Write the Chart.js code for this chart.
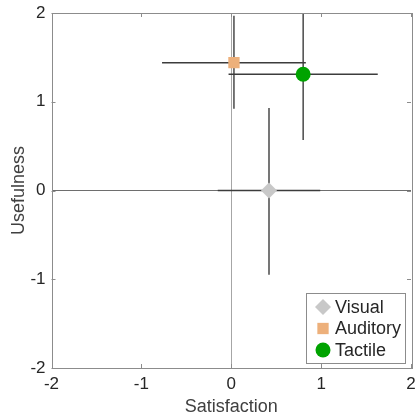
<!DOCTYPE html>
<html>
<head>
<meta charset="utf-8">
<script src="https://cdn.jsdelivr.net/npm/chart.js@4"></script>
<style>
  html, body { margin: 0; padding: 0; background: #fff; }
  #wrap { width: 416px; height: 418px; }
</style>
</head>
<body>
<div id="wrap"><canvas id="chart" width="416" height="418"></canvas></div>
<script>
// data
const groups = ['Visual', 'Auditory', 'Tactile'];
const satisfaction = [0.42, 0.03, 0.80];
const usefulness = [0.00, 1.44, 1.31];
const satLow = [-0.15, -0.77, -0.03];
const satHigh = [0.99, 0.83, 1.63];
const useLow = [-0.95, 0.92, 0.57];
const useHigh = [0.93, 1.97, 2.02];
const tickValues = [-2, -1, 0, 1, 2];

const markerColors = ['#c8c8c8', '#edb07b', '#00a300'];
const markerStyles = ['rectRot', 'rect', 'circle'];
const markerRadius = [8, 8, 7.5];

const fontFamily = '"Liberation Sans", Arial, Helvetica, sans-serif';
const barColor = '#3c3c3c';
const boxColor = '#8c8c8c';

const datasets = [];

// error bars (drawn below the markers)
groups.forEach(function(name, i) {
    datasets.push({
        type: 'line',
        label: name + ' x-err',
        data: [{x: satLow[i], y: usefulness[i]}, {x: satHigh[i], y: usefulness[i]}],
        borderColor: barColor,
        borderWidth: 1.4,
        pointRadius: 0,
        order: 2
    });
    datasets.push({
        type: 'line',
        label: name + ' y-err',
        data: [{x: satisfaction[i], y: useLow[i]}, {x: satisfaction[i], y: useHigh[i]}],
        borderColor: barColor,
        borderWidth: 1.4,
        pointRadius: 0,
        order: 2
    });
});

// markers
groups.forEach(function(name, i) {
    datasets.push({
        type: 'scatter',
        label: name,
        data: [{x: satisfaction[i], y: usefulness[i]}],
        pointStyle: markerStyles[i],
        pointRadius: markerRadius[i],
        backgroundColor: markerColors[i],
        borderColor: markerColors[i],
        borderWidth: 0,
        order: 1
    });
});

// box around the plot with inward ticks, and the legend inside the plot
const boxPlugin = {
    id: 'boxPlugin',
    afterDraw(chart) {
        const ctx = chart.ctx;
        const a = chart.chartArea;
        const xs = chart.scales.x;
        const ys = chart.scales.y;
        ctx.save();
        ctx.strokeStyle = boxColor;
        ctx.lineWidth = 1;
        ctx.strokeRect(Math.round(a.left) + 0.5, Math.round(a.top) + 0.5,
            Math.round(a.right - a.left), Math.round(a.bottom - a.top));
        const tl = 4;
        ctx.beginPath();
        tickValues.forEach(function(v) {
            const px = Math.round(xs.getPixelForValue(v)) + 0.5;
            ctx.moveTo(px, a.bottom); ctx.lineTo(px, a.bottom - tl);
            ctx.moveTo(px, a.top); ctx.lineTo(px, a.top + tl);
            const py = Math.round(ys.getPixelForValue(v)) + 0.5;
            ctx.moveTo(a.left, py); ctx.lineTo(a.left + tl, py);
            ctx.moveTo(a.right, py); ctx.lineTo(a.right - tl, py);
        });
        ctx.stroke();

        // legend
        const w = 99, h = 70;
        const lx = a.right - 6 - w;
        const ly = a.bottom - 5 - h;
        ctx.fillStyle = '#ffffff';
        ctx.fillRect(lx, ly, w, h);
        ctx.strokeStyle = boxColor;
        ctx.strokeRect(Math.round(lx) + 0.5, Math.round(ly) + 0.5, w, h);
        ctx.font = '18px ' + fontFamily;
        ctx.textBaseline = 'middle';
        ctx.textAlign = 'left';
        groups.forEach(function(name, i) {
            const cy = ly + 14 + i * 21.5;
            ctx.fillStyle = markerColors[i];
            ctx.strokeStyle = markerColors[i];
            Chart.helpers.drawPoint(ctx, {
                pointStyle: markerStyles[i],
                radius: markerRadius[i],
                borderWidth: 0,
                rotation: 0
            }, lx + 17, cy);
            ctx.fillStyle = '#262626';
            ctx.fillText(name, lx + 29, cy + 1);
        });
        ctx.restore();
    }
};

function axisOptions(title, isX) {
    return {
        type: 'linear',
        min: -2,
        max: 2,
        afterBuildTicks: function(scale) {
            scale.ticks = tickValues.map(function(v) { return {value: v}; });
        },
        afterFit: function(scale) {
            // fixed axis sizes so the plot box sits where the figure has it
            if (isX) {
                scale.height = 50;
                scale.paddingLeft = 0;
                scale.paddingRight = 0;
            } else {
                scale.width = 51.5;
                scale.paddingTop = 0;
                scale.paddingBottom = 0;
            }
        },
        border: { display: false },
        grid: {
            drawTicks: false,
            lineWidth: 1,
            color: function(c) {
                if (c.tick && c.tick.value === 0) return isX ? '#a6a6a6' : '#6e6e6e';
                return 'rgba(0,0,0,0)';
            }
        },
        ticks: {
            color: '#262626',
            padding: isX ? 6 : 6,
            font: { family: fontFamily, size: 17 }
        },
        title: {
            display: true,
            text: title,
            color: '#404040',
            padding: { top: isX ? 3 : 8, bottom: 0 },
            font: { family: fontFamily, size: 18 }
        }
    };
}

new Chart(document.getElementById('chart').getContext('2d'), {
    type: 'scatter',
    data: { datasets: datasets },
    options: {
        responsive: false,
        animation: false,
        layout: { autoPadding: false, padding: { top: 13, right: 5, left: 0, bottom: 0 } },
        plugins: {
            legend: { display: false },
            tooltip: { enabled: false }
        },
        scales: {
            x: axisOptions('Satisfaction', true),
            y: axisOptions('Usefulness', false)
        }
    },
    plugins: [boxPlugin]
});
</script>
</body>
</html>
